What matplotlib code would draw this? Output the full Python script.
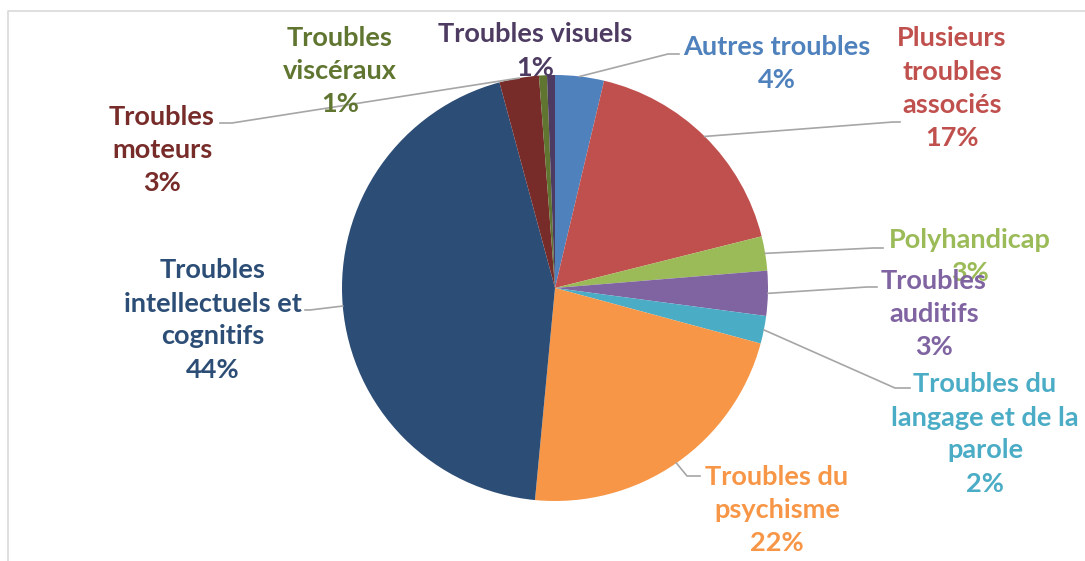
import numpy as np
import matplotlib
matplotlib.use('Agg')
from matplotlib import pyplot as plt
from matplotlib.lines import Line2D

# categories, clockwise from 12 o'clock
categories = ['Autres troubles', 'Plusieurs\ntroubles\nassociés', 'Polyhandicap',
              'Troubles\nauditifs', 'Troubles du\nlangage et de la\nparole',
              'Troubles du\npsychisme', 'Troubles\nintellectuels et\ncognitifs',
              'Troubles\nmoteurs', 'Troubles\nviscéraux', 'Troubles visuels']
shares = [3.7, 17.4, 2.6, 3.4, 2.1, 22.3, 44.3, 3.0, 0.6, 0.6]
colors = ['#4F81BD', '#C0504D', '#9BBB59', '#8064A2', '#4BACC6',
          '#F79646', '#2C4D75', '#772C2A', '#5F7530', '#4D3B62']

W, H = 1085, 561
cx, cy, R = 555, 288, 213

# label centres (px, y from top) and leader elbows / ends (None = no leader)
label_pos = [(777, 63), (952, 88), (970, 256), (934, 314), (985, 434),
             (777, 510), (213, 320), (162, 150), (340, 71), (535, 51)]
elbows = [((668, 54), (679, 54)), ((893, 122), (900, 122)), ((873, 248), (883, 248)),
          ((867, 287), (877, 287)), ((895, 388), (910, 388)), ((687, 476), (700, 476)),
          ((310, 310), (305, 310)), ((232, 123), (220, 123)), None, None]

plt.rcParams['font.family'] = ['Lato', 'DejaVu Sans']

fig = plt.figure(figsize=(W / 100, H / 100), dpi=100)
ax = fig.add_axes([0, 0, 1, 1])

wedges, _ = ax.pie(shares, colors=colors, startangle=90, counterclock=False,
                   center=(cx, H - cy), radius=R, frame=True)
ax.set_xlim(0, W)
ax.set_ylim(0, H)
ax.axis('off')

total = sum(shares)
for i, w in enumerate(wedges):
    mid = np.deg2rad((w.theta1 + w.theta2) / 2)
    sx = cx + R * np.cos(mid)
    sy = (H - cy) + R * np.sin(mid)
    if elbows[i] is not None:
        (ex, ey), (tx, ty) = elbows[i]
        ax.plot([sx, ex, tx], [sy, H - ey, H - ty], color='#A6A6A6', lw=1.2, zorder=3)
    pct = '%d%%' % round(shares[i] / total * 100)
    lx, ly = label_pos[i]
    ax.text(lx, H - ly, categories[i] + '\n' + pct, color=colors[i], ha='center', va='center',
            fontsize=19.5, fontweight='bold', linespacing=1.45, zorder=4)

# chart border
fig.add_artist(Line2D([8 / W, 8 / W, 1], [0, 1 - 11 / H, 1 - 11 / H],
                      transform=fig.transFigure, color='#D9D9D9', lw=1.2))

fig.savefig('out.png', dpi=100)
